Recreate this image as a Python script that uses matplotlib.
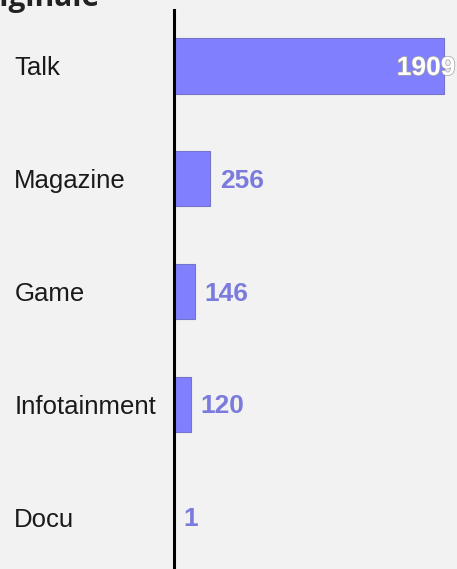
import matplotlib.pyplot as plt
import matplotlib.patheffects as pe

# Data
genres = ["Talk", "Magazine", "Game", "Infotainment", "Docu"]
counts = [1909, 256, 146, 120, 1]

bg = "#f2f2f2"
bar_color = "#8080ff"
label_color = "#7b7bdd"

fig = plt.figure(figsize=(4.57, 5.69), dpi=100, facecolor=bg)
ax = fig.add_axes([174 / 457, 0.0, 1 - 174 / 457, 1 - 10 / 569])
ax.set_facecolor(bg)

pos = list(range(len(genres)))
ax.barh(pos, counts, height=0.49, color=bar_color, edgecolor="#7474c8", linewidth=0.8)

ax.set_xlim(0, 2000)
ax.set_ylim(4.46, -0.496)

for s in ["top", "right", "bottom"]:
    ax.spines[s].set_visible(False)
ax.spines["left"].set_linewidth(2.2)
ax.spines["left"].set_color("black")
ax.set_xticks([])

ax.set_yticks(pos, genres, fontsize=18.5, family="Liberation Sans", color="#1a1a1a")
ax.tick_params(axis="y", length=0, pad=115)
for lbl in ax.get_yticklabels():
    lbl.set_horizontalalignment("left")

# Value labels
for y, v in zip(pos, counts):
    if v == max(counts):
        ax.annotate(str(v), (v, y), xytext=(8, -1.5), textcoords="offset points",
                    ha="right", va="center", fontsize=19, fontweight="bold",
                    color="white", family="Liberation Sans",
                    path_effects=[pe.withStroke(linewidth=1, foreground="#a0a0a0")])
    else:
        ax.annotate(str(v), (v, y), xytext=(7, -1.5), textcoords="offset points",
                    ha="left", va="center", fontsize=19, fontweight="bold",
                    color=label_color, family="Liberation Sans")

# Title, clipped at the top edge
fig.text(99 / 457, 1 - 6 / 569, "Originale", fontsize=21.5, fontweight="bold",
         family="Open Sans", color="#222222", ha="right", va="baseline")

fig.savefig("out.png", dpi=100, facecolor=bg)
